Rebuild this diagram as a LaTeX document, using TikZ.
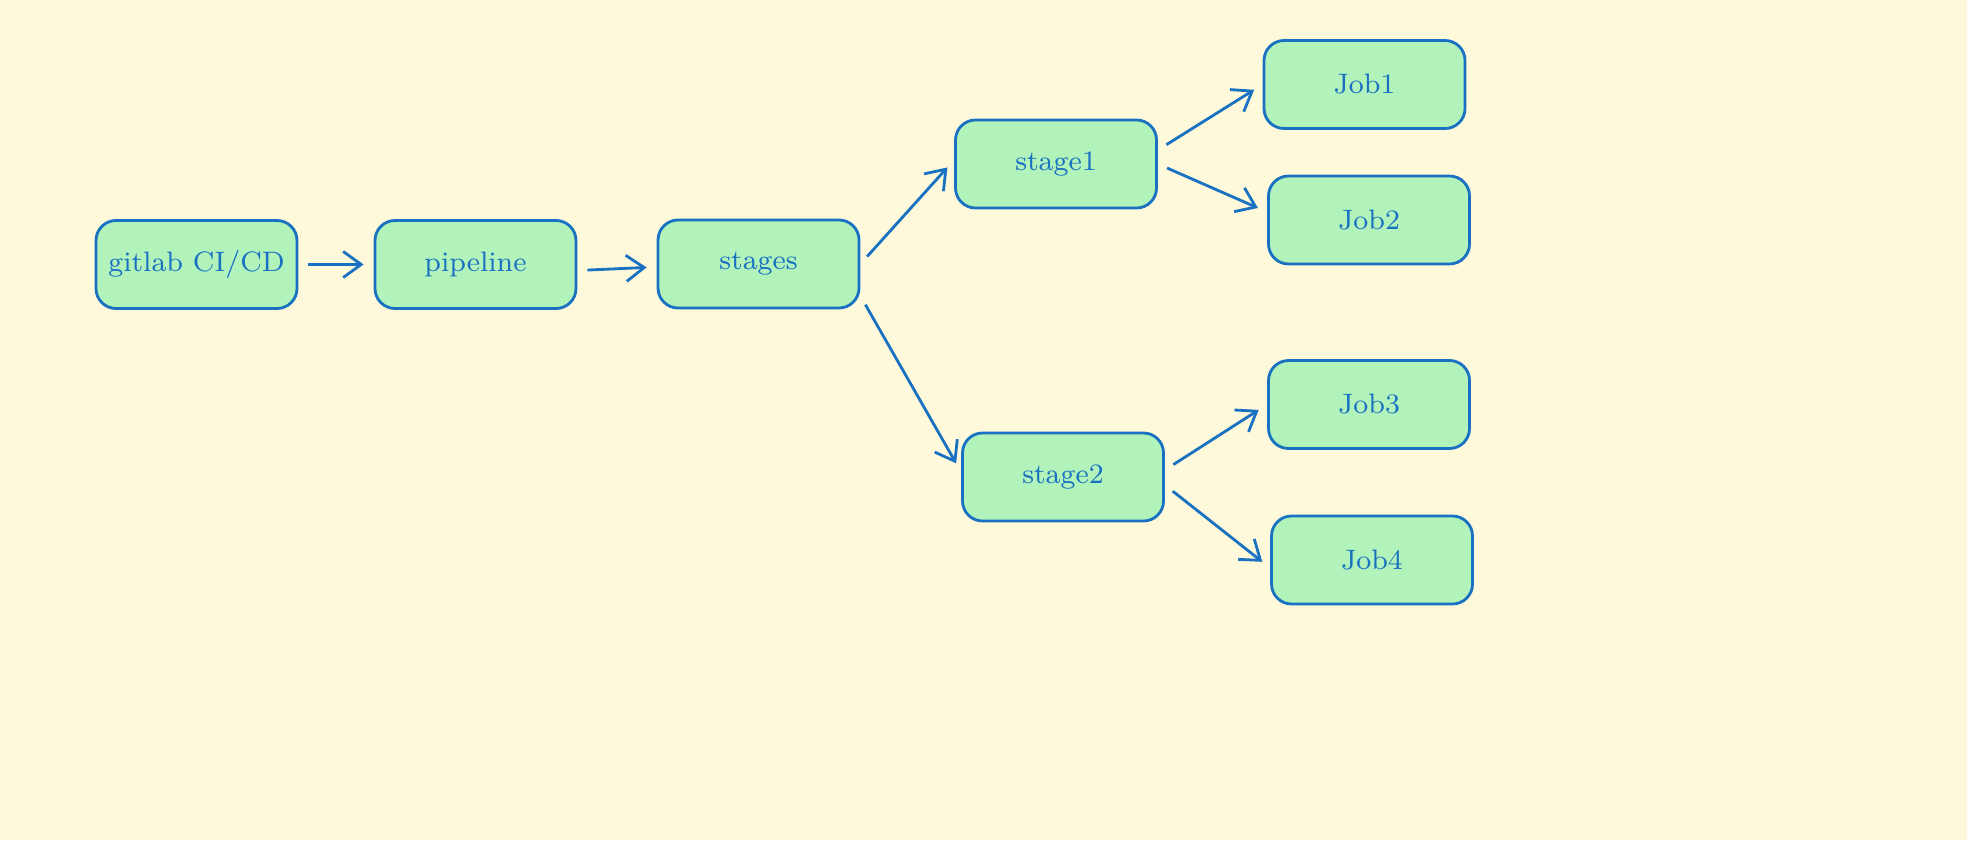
\documentclass[tikz,border=0pt]{standalone}
\usetikzlibrary{arrows.meta}
\definecolor{bgyellow}{HTML}{FFF9DB}
\definecolor{boxgreen}{HTML}{B2F2BB}
\definecolor{linkblue}{HTML}{1971C2}

\begin{document}
\begin{tikzpicture}[
        box/.style={draw=linkblue,fill=boxgreen,line width=0.8pt,rounded corners=0.2cm,
            minimum width=2.01cm,minimum height=0.88cm,text=linkblue,font=\footnotesize},
        link/.style={->,draw=linkblue,line width=0.8pt,shorten <=1mm,shorten >=1mm},
        >={Straight Barb[length=1.8mm,width=2.6mm]}
    ]
            \fill[bgyellow] (0,0) rectangle (19.67,-8.40);
            \useasboundingbox (0,0) rectangle (19.67,-8.40);
            % main chain
            \node[box] (git) at (1.965,-2.645) {gitlab CI/CD};
            \node[box] (pipe) at (4.755,-2.645) {pipeline};
            \node[box] (stages) at (7.585,-2.64) {stages};
            % stages and jobs
            \node[box] (stage1) at (10.56,-1.64) {stage1};
            \node[box] (stage2) at (10.63,-4.77) {stage2};
            \node[box] (job1) at (13.645,-0.845) {Job1};
            \node[box] (job2) at (13.69,-2.20) {Job2};
            \node[box] (job3) at (13.69,-4.045) {Job3};
            \node[box] (job4) at (13.72,-5.60) {Job4};
            \draw[link] (git) -- (pipe);
            \draw[link] ([yshift=-0.06cm]pipe.east) -- ([yshift=-0.03cm]stages.west);
            \draw[link] (stages.east) -- ([yshift=0.04cm]stage1.west);
            \draw[link] ([yshift=-0.32cm]stages.east) -- ([yshift=0.05cm]stage2.west);
            \draw[link] ([yshift=0.14cm]stage1.east) -- (job1.west);
            \draw[link] (stage1.east) -- ([yshift=0.08cm]job2.west);
            \draw[link] ([yshift=0.07cm]stage2.east) -- (job3.west);
            \draw[link] ([yshift=-0.08cm]stage2.east) -- ([yshift=-0.08cm]job4.west);
        \end{tikzpicture}
\end{document}
